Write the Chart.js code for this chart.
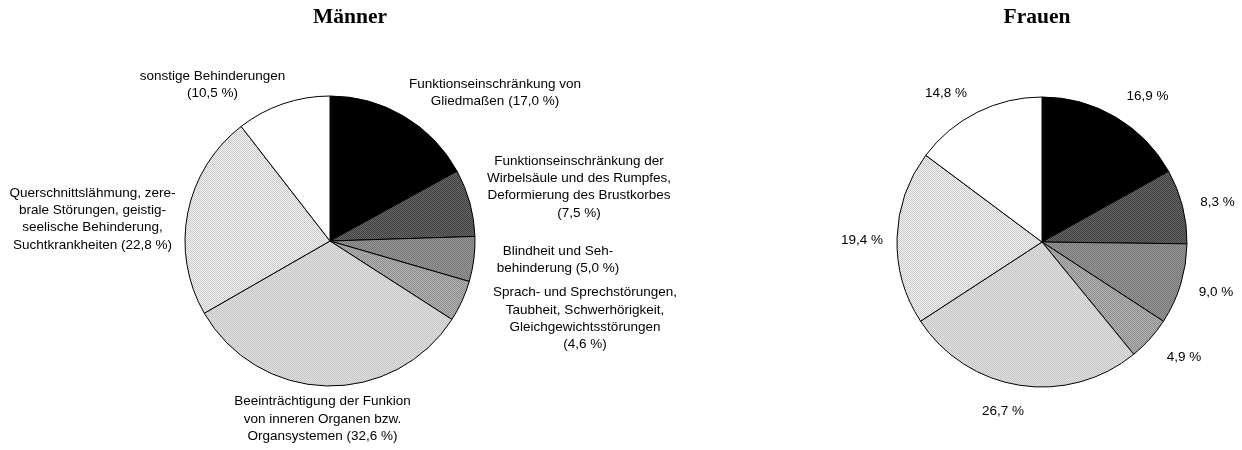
<!DOCTYPE html>
<html>
<head>
<meta charset="utf-8">
<script src="https://cdn.jsdelivr.net/npm/chart.js@4"></script>
<style>
  html, body { margin: 0; padding: 0; background: #fff; }
  body { width: 1242px; height: 450px; overflow: hidden; position: relative; }
  canvas { position: absolute; top: 0; }
</style>
</head>
<body>
<canvas id="maenner" width="800" height="450" style="left:0;width:800px;height:450px"></canvas>
<canvas id="frauen" width="442" height="450" style="left:800px;width:442px;height:450px"></canvas>
<script>
// ---- data ----
const categories = [
  'Funktionseinschränkung von Gliedmaßen',
  'Funktionseinschränkung der Wirbelsäule und des Rumpfes, Deformierung des Brustkorbes',
  'Blindheit und Sehbehinderung',
  'Sprach- und Sprechstörungen, Taubheit, Schwerhörigkeit, Gleichgewichtsstörungen',
  'Beeinträchtigung der Funkion von inneren Organen bzw. Organsystemen',
  'Querschnittslähmung, zerebrale Störungen, geistig-seelische Behinderung, Suchtkrankheiten',
  'sonstige Behinderungen'
];
// label text as it is broken into lines on the chart (last line gets the percentage appended)
const categoryLines = [
  ['Funktionseinschränkung von', 'Gliedmaßen'],
  ['Funktionseinschränkung der', 'Wirbelsäule und des Rumpfes,', 'Deformierung des Brustkorbes', ''],
  ['Blindheit und Seh-', 'behinderung'],
  ['Sprach- und Sprechstörungen,', 'Taubheit, Schwerhörigkeit,', 'Gleichgewichtsstörungen', ''],
  ['Beeinträchtigung der Funkion', 'von inneren Organen bzw.', 'Organsystemen'],
  ['Querschnittslähmung, zere-', 'brale Störungen, geistig-', 'seelische Behinderung,', 'Suchtkrankheiten'],
  ['sonstige Behinderungen', '']
];
const maennerValues = [17.0, 7.5, 5.0, 4.6, 32.6, 22.8, 10.5];
const frauenValues  = [16.9, 8.3, 9.0, 4.9, 26.7, 19.4, 14.8];
const chartTitles = ['Männer', 'Frauen'];

// ---- layout / style (not data) ----
// label block centre, offset from pie centre in px
const maennerLabelOffsets = [[165, -148.5], [249, -54], [228, 18.5], [255, 77.5], [-7.5, 178], [-237.5, -22], [-117.5, -156.5]];
const frauenLabelOffsets  = [[105.5, -146], [175.5, -40], [174, 50], [142, 115], [-39, 169], [-180, -2], [-96, -149]];

function makePattern(base, dot, size) {
  const c = document.createElement('canvas');
  c.width = size; c.height = size;
  const g = c.getContext('2d');
  g.fillStyle = base; g.fillRect(0, 0, size, size);
  g.fillStyle = dot; g.fillRect(0, 0, 1, 1);
  if (size === 2) { g.fillRect(1, 1, 1, 1); }
  return document.getElementById('maenner').getContext('2d').createPattern(c, 'repeat');
}
const sliceFills = [
  '#000000',
  makePattern('#6a6a6a', '#3c3c3c', 2),
  makePattern('#999999', '#747474', 2),
  makePattern('#b4b4b4', '#8c8c8c', 2),
  makePattern('#e2e2e2', '#c4c4c4', 2),
  makePattern('#f4f4f4', '#c8c8c8', 2),
  '#ffffff'
];

const fmt = v => v.toFixed(1).replace('.', ',') + ' %';

const labelPlugin = {
  id: 'sliceLabels',
  afterDraw(chart, args, opts) {
    const ctx = chart.ctx;
    const meta = chart.getDatasetMeta(0);
    const values = chart.data.datasets[0].data;
    ctx.save();
    ctx.fillStyle = '#000';
    ctx.textAlign = 'center';
    ctx.textBaseline = 'middle';
    // title
    ctx.font = 'bold 21.5px "Liberation Serif", "Times New Roman", serif';
    ctx.fillText(opts.title, opts.titleX, opts.titleY);
    // labels
    ctx.font = '13.5px "Liberation Sans", Arial, sans-serif';
    const lh = 17.4;
    meta.data.forEach((arc, i) => {
      let lines;
      if (opts.long) {
        lines = categoryLines[i].slice();
        const last = lines.length - 1;
        const pct = '(' + fmt(values[i]) + ')';
        lines[last] = lines[last] ? lines[last] + ' ' + pct : pct;
      } else {
        lines = [fmt(values[i])];
      }
      const [dx, dy] = opts.offsets[i];
      const cx = arc.x + dx;
      const cy = arc.y + dy - (lines.length - 1) * lh / 2;
      lines.forEach((t, k) => ctx.fillText(t, cx, cy + k * lh));
    });
    ctx.restore();
  }
};

function makeChart(id, values, padding, pluginOpts) {
  return new Chart(document.getElementById(id), {
    type: 'pie',
    data: {
      labels: categories,
      datasets: [{
        data: values,
        backgroundColor: sliceFills,
        borderColor: '#000000',
        borderWidth: 1,
        borderAlign: 'center',
        hoverOffset: 0
      }]
    },
    options: {
      responsive: false,
      animation: false,
      events: [],
      layout: { padding: padding },
      plugins: {
        legend: { display: false },
        tooltip: { enabled: false },
        title: { display: false },
        sliceLabels: pluginOpts
      }
    },
    plugins: [labelPlugin]
  });
}

makeChart('maenner', maennerValues,
  { left: 184.5, right: 324.5, top: 95.5, bottom: 63.5 },
  { title: chartTitles[0], titleX: 350, titleY: 17, long: true, offsets: maennerLabelOffsets });
makeChart('frauen', frauenValues,
  { left: 96.5, right: 54.5, top: 96.5, bottom: 62.5 },
  { title: chartTitles[1], titleX: 237, titleY: 17, long: false, offsets: frauenLabelOffsets });
</script>
</body>
</html>
